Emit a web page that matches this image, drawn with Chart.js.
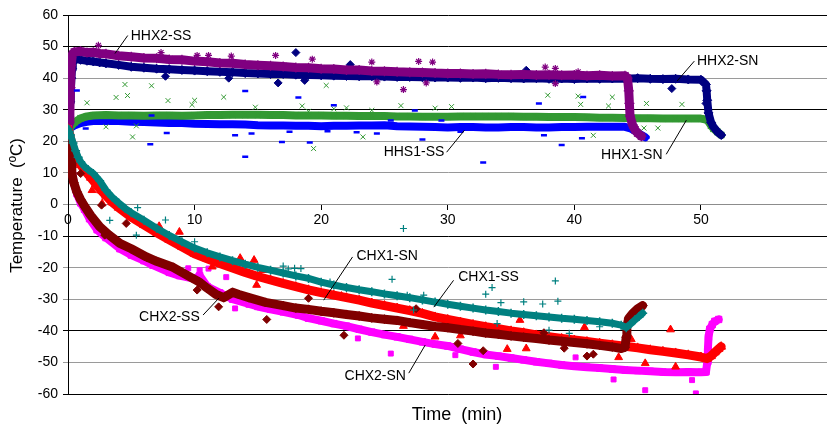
<!DOCTYPE html>
<html>
<head>
<meta charset="utf-8">
<script src="https://cdn.jsdelivr.net/npm/chart.js@4.4.1/dist/chart.umd.min.js"></script>
<style>
html, body { margin: 0; padding: 0; background: #fff; overflow: hidden; }
#wrap { width: 827px; height: 426px; overflow: hidden; }
</style>
</head>
<body>
<div id="wrap"><canvas id="tempChart" width="835" height="426"></canvas></div>
<script>
// ---- data (time in min, temperature in ºC) ----

// HHX2-SS (purple, asterisk)
const hhx2ssTime = [0, 0.1, 0.15, 0.2, 0.25, 0.35, 0.5, 1, 1.5, 2, 2.5, 3, 4, 5, 6, 7, 8, 9, 10, 11, 12, 13, 14, 15, 16, 17, 18, 19, 20, 21, 22, 23, 24, 25, 26, 27, 28, 29, 30, 31, 32, 33, 34, 35, 36, 37, 38, 39, 40, 41, 42, 43, 44, 44.2, 44.3, 44.35, 44.4, 44.6, 44.8, 45.0, 45.3];
const hhx2ssTemp = [24, 26, 30, 37, 44, 47.6, 48.3, 48.5, 48.1, 48.2, 47.8, 47.7, 47.1, 46.8, 46.4, 46.3, 45.9, 45.8, 45.4, 45.2, 44.8, 44.7, 44.3, 44.1, 43.9, 43.7, 43.4, 43.3, 43.0, 42.9, 42.6, 42.6, 42.3, 42.2, 42.0, 41.9, 41.8, 41.6, 41.5, 41.5, 41.3, 41.4, 41.2, 41.1, 41.2, 41.0, 41.1, 40.9, 41.0, 40.8, 40.9, 40.7, 40.8, 40.0, 36, 32, 28, 25.2, 23.6, 22.6, 21.6];
const hhx2ssOutTime = [2.4, 7.35, 10.2, 11.1, 12.9, 16.4, 19.3, 24.0, 24.4, 26.5, 27.7, 28.3, 28.8, 37.7, 38.5, 38.5, 40.3];
const hhx2ssOutTemp = [50.4, 48.1, 47.2, 47.2, 47.0, 47.2, 46.0, 45.1, 38.8, 36.4, 45.3, 38.5, 45.1, 43.5, 43.1, 38.3, 42.0];

// HHX2-SN (navy, diamond)
const hhx2snTime = [0, 0.12, 0.17, 0.22, 0.27, 0.32, 0.38, 0.45, 0.6, 1, 1.5, 2, 2.5, 3, 4, 5, 6, 7, 8, 9, 10, 11, 12, 13, 14, 15, 16, 17, 18, 19, 20, 21, 22, 23, 24, 25, 26, 27, 28, 29, 30, 31, 32, 33, 34, 35, 36, 37, 38, 39, 40, 41, 42, 43, 44, 45, 46, 47, 48, 49, 50, 50.4, 50.45, 50.5, 50.6, 50.8, 51, 51.3, 51.6];
const hhx2snTemp = [24, 28, 32.5, 36, 40, 43, 45, 45.8, 46, 45.8, 45.5, 45.3, 45, 44.7, 44.2, 43.6, 43.3, 43.0, 42.8, 42.6, 42.4, 42.2, 42.0, 41.9, 41.6, 41.5, 41.3, 41.3, 41.1, 41.0, 40.9, 40.8, 40.7, 40.6, 40.6, 40.5, 40.4, 40.4, 40.3, 40.2, 40.2, 40.1, 40.2, 40.0, 40.1, 40.0, 39.9, 40.0, 39.8, 39.9, 39.7, 39.9, 39.8, 39.9, 39.8, 40.0, 39.8, 39.7, 39.8, 39.6, 39.5, 38, 36, 33, 29, 26, 24.5, 23, 22];
const hhx2snOutTime = [7.7, 12.7, 16.6, 18.0, 18.7, 22.3, 36.2, 47.7, 50.4];
const hhx2snOutTemp = [40.6, 40.0, 38.5, 48.1, 39.3, 44.3, 42.5, 36.7, 32.0];

// HHS1-SS (blue, dash)
const hhs1ssTime = [0, 0.2, 0.5, 1, 1.5, 2, 3, 4, 5, 6, 7, 8, 9, 10, 11, 12, 13, 14, 15, 16, 17, 18, 19, 20, 21, 22, 23, 24, 25, 26, 27, 28, 29, 30, 31, 32, 33, 34, 35, 36, 37, 38, 39, 40, 41, 42, 43, 44, 44.5, 45, 45.3, 45.6];
const hhs1ssTemp = [24, 24.3, 25, 25.8, 26.2, 26.4, 26.5, 26.4, 26.2, 26.1, 26.0, 25.8, 25.8, 25.6, 25.5, 25.4, 25.4, 25.3, 25.1, 25.0, 25.0, 24.9, 24.9, 24.8, 24.9, 24.9, 25.0, 25.0, 25.1, 24.8, 24.7, 24.6, 24.5, 24.4, 24.5, 24.5, 24.4, 24.4, 24.5, 24.5, 24.4, 24.4, 24.5, 24.5, 24.6, 24.6, 24.6, 24.6, 24.0, 22.8, 22.0, 21.3];
const hhs1ssOutTime = [0.7, 1.4, 6.5, 6.6, 7.8, 13.2, 14.0, 14.0, 14.5, 16.9, 17.5, 18.2, 19.1, 20.5, 21.0, 22.8, 24.4, 25.5, 27.4, 28.0, 29.5, 31.0, 32.8, 37.2, 37.6, 39.0, 40.6, 40.7];
const hhs1ssOutTemp = [36.1, 24.1, 19.1, 28.2, 22.6, 21.9, 35.9, 15.1, 22.5, 19.8, 23.0, 33.9, 19.6, 23.2, 31.4, 22.9, 22.5, 26.6, 29.8, 20.6, 26.6, 23.0, 13.3, 32.0, 21.9, 18.8, 21.0, 34.0];

// HHX1-SN (green, x)
const hhx1snTime = [0, 0.2, 0.5, 1, 1.5, 2, 3, 4, 5, 6, 7, 8, 9, 10, 11, 12, 13, 14, 15, 16, 17, 18, 19, 20, 21, 22, 23, 24, 25, 26, 27, 28, 29, 30, 31, 32, 33, 34, 35, 36, 37, 38, 39, 40, 41, 42, 43, 44, 45, 46, 47, 48, 49, 50, 50.5, 50.8, 51, 51.3, 51.6];
const hhx1snTemp = [24, 24.5, 26, 27.3, 27.9, 28.2, 28.3, 28.2, 28.2, 28.1, 28.2, 28.2, 28.1, 28.2, 28.3, 28.3, 28.4, 28.4, 28.4, 28.3, 28.3, 28.2, 28.2, 28.2, 28.1, 28.1, 28.0, 28.0, 28.0, 27.9, 27.9, 27.8, 27.8, 27.8, 27.9, 27.9, 27.9, 27.9, 27.9, 27.8, 27.8, 27.7, 27.7, 27.7, 27.6, 27.5, 27.5, 27.4, 27.3, 27.3, 27.2, 27.2, 27.2, 27.2, 26.8, 25.0, 24.0, 23.0, 22.0];
const hhx1snOutTime = [1.5, 3.0, 3.8, 4.5, 4.7, 5.1, 5.4, 6.6, 7.9, 9.8, 10.0, 12.3, 14.8, 18.5, 19.0, 19.4, 20.4, 21.0, 22.0, 23.3, 24.0, 26.3, 29.0, 30.3, 37.9, 40.3, 40.5, 41.5, 42.7, 43.0, 44.3, 45.5, 45.7, 46.6, 48.5, 50.6];
const hhx1snOutTemp = [32.2, 24.6, 33.9, 38.0, 34.5, 21.4, 24.9, 37.6, 32.9, 31.6, 33.0, 34.0, 30.8, 31.2, 29.5, 17.7, 37.7, 30.3, 30.6, 21.4, 29.8, 31.3, 30.5, 31.0, 34.6, 34.3, 31.7, 21.9, 31.2, 34.0, 34.9, 24.2, 32.0, 24.2, 31.7, 29.0];

// CHX1-SS (teal, +)
const chx1ssTime = [0, 0.1, 0.2, 0.4, 0.6, 0.8, 1.0, 1.3, 1.6, 2.0, 2.5, 3.0, 3.5, 4.0, 4.5, 5, 6, 7, 8, 9, 10, 11, 12, 13, 14, 15, 16, 17, 18, 19, 20, 21, 22, 23, 24, 25, 26, 27, 28, 29, 30, 31, 32, 33, 34, 35, 36, 37, 38, 39, 40, 41, 42, 43, 43.7, 44.1, 44.4, 44.8, 45.1, 45.4];
const chx1ssTemp = [24, 23, 22, 19.5, 17, 15, 13.5, 12, 11, 9.8, 7.5, 4.5, 2.3, 0.5, -1.2, -2.6, -5, -7.5, -9.8, -11.8, -13.8, -15.3, -16.6, -17.8, -18.9, -19.9, -20.8, -21.7, -22.6, -23.4, -24.6, -25.5, -26.3, -27.0, -27.6, -28.3, -28.9, -29.5, -30.2, -30.9, -31.6, -32.2, -32.8, -33.4, -33.9, -34.4, -34.8, -35.2, -35.6, -36.0, -36.3, -36.7, -37.1, -37.6, -38.2, -39.0, -38.0, -36.5, -35.5, -34.4];
const chx1ssOutTime = [3.3, 5.4, 5.5, 7.7, 10.0, 17.0, 17.4, 17.9, 18.4, 20.7, 25.6, 26.5, 26.8, 27.3, 28.1, 33.0, 33.5, 33.9, 34.2, 36.0, 37.5, 38.0, 38.5, 38.7, 39.6, 42.0];
const chx1ssOutTemp = [-5.0, -9.7, -1.0, -4.9, -11.8, -19.5, -20.4, -20.2, -20.3, -24.5, -23.7, -7.6, -28.7, -33.4, -28.7, -28.4, -26.3, -37.7, -31.1, -30.8, -31.5, -39.8, -24.2, -30.6, -40.8, -38.7];

// CHX1-SN (red, triangle)
const chx1snTime = [0, 0.15, 0.3, 0.5, 0.7, 1.0, 1.4, 1.8, 2.2, 2.6, 3.0, 3.5, 4, 5, 6, 7, 8, 9, 10, 11, 12, 13, 14, 15, 16, 17, 18, 19, 20, 21, 22, 23, 24, 25, 26, 27, 28, 29, 30, 31, 32, 33, 34, 35, 36, 37, 38, 39, 40, 41, 42, 43, 44, 45, 46, 47, 48, 49, 50, 50.5, 50.8, 51.1, 51.4, 51.6];
const chx1snTemp = [24, 22, 19, 16.5, 14.5, 12.5, 10.5, 8.5, 6.5, 4.5, 2.8, 0.7, -1.0, -4.0, -6.5, -8.9, -11.2, -13.4, -15.6, -17.2, -18.7, -20.1, -21.5, -22.8, -23.9, -25.0, -26.0, -27.0, -27.9, -28.7, -29.5, -30.3, -31.2, -32.0, -32.8, -33.6, -34.5, -35.6, -36.4, -37.2, -38.0, -38.7, -39.3, -40.0, -40.6, -41.3, -41.9, -42.4, -42.9, -43.4, -43.9, -44.4, -44.9, -45.4, -46.0, -46.5, -47.0, -47.6, -48.3, -48.8, -48.0, -46.8, -45.7, -45.0];
const chx1snOutTime = [1.9, 2.7, 7.2, 8.8, 11.4, 13.6, 14.7, 14.9, 15.4, 21.6, 26.5, 29.0, 31.0, 34.7, 35.7, 36.2, 40.8, 43.5, 44.5, 45.6, 47.6, 48.0];
const chx1snOutTemp = [4.5, 0.3, -6.9, -8.7, -19.7, -17.0, -17.6, -25.5, -20.8, -29.0, -38.5, -41.9, -41.5, -45.8, -36.6, -45.6, -38.9, -48.4, -42.7, -50.3, -39.6, -51.4];

// CHX2-SS (maroon, diamond)
const chx2ssTime = [0, 0.1, 0.18, 0.25, 0.3, 0.45, 0.7, 1.0, 1.35, 1.8, 2.5, 3.2, 4.1, 5, 6.2, 7, 8.3, 9, 10.35, 11, 11.7, 12.3, 13, 13.5, 14.3, 15.6, 17, 18, 19, 20, 21, 22, 23, 24, 25, 26, 27, 28, 29, 30, 31, 32, 33, 34, 35, 36, 37, 38, 39, 40, 41, 42, 43, 43.7, 44.0, 44.1, 44.15, 44.3, 44.6, 45.0, 45.4];
const chx2ssTemp = [22, 20, 17, 13, 10, 7, 4, 1.5, -0.8, -3.5, -7, -9.5, -12.3, -14, -16.6, -18, -19.9, -21.5, -24.5, -26.5, -28.5, -29.5, -27.8, -28.5, -29.5, -31.0, -32.0, -32.8, -33.2, -33.8, -34.3, -34.8, -35.3, -35.9, -36.3, -36.7, -37.4, -38.0, -38.6, -39.0, -39.6, -40.1, -40.7, -41.1, -41.6, -42.0, -42.4, -42.9, -43.3, -43.7, -44.1, -44.6, -45.1, -45.6, -45.2, -42, -38.5, -36, -34.5, -33, -32];
const chx2ssOutTime = [1.0, 2.65, 2.9, 4.6, 10.2, 11.9, 15.7, 19.0, 21.8, 27.5, 30.8, 32.0, 32.8, 37.6, 39.2, 41.0, 41.5];
const chx2ssOutTemp = [9.8, -0.2, -9.7, -6.0, -27.1, -32.4, -36.4, -29.7, -41.4, -33.0, -44.0, -50.5, -46.3, -40.6, -45.5, -48.0, -47.4];

// CHX2-SN (magenta, square)
const chx2snTime = [0, 0.1, 0.2, 0.3, 0.45, 0.7, 1.0, 1.3, 1.7, 2.3, 3, 4.1, 5, 6, 6.7, 8, 8.8, 10, 10.4, 11, 12, 13, 14.3, 15, 16, 17, 18.2, 19, 20, 21, 22, 23, 24, 25, 26, 27, 28, 29, 30, 31, 32, 33, 34, 35, 36, 37, 38, 39, 40, 41, 42, 43, 44, 45, 46, 47, 48, 49, 50, 50.4, 50.5, 50.55, 50.6, 50.7, 50.9, 51.1, 51.4];
const chx2snTemp = [24, 20, 15, 11, 7, 3.5, 0.5, -1.5, -4.5, -8, -10.5, -14, -16, -17.8, -19.2, -21.5, -22.5, -23.5, -22.5, -26, -28.0, -30.0, -31.5, -32.3, -33.2, -34.0, -35.0, -36.0, -36.8, -37.7, -38.5, -39.5, -40.4, -41.2, -41.9, -42.7, -43.5, -44.2, -44.8, -45.8, -46.7, -47.5, -48.0, -48.6, -49.2, -49.8, -50.3, -50.8, -51.2, -51.5, -51.8, -52.1, -52.4, -52.6, -52.8, -53.0, -53.1, -53.0, -53.1, -53.0, -50, -46, -42, -39.5, -38, -37, -36.4];
const chx2snOutTime = [6.6, 9.5, 10.4, 11.1, 12.5, 13.2, 22.9, 25.5, 30.6, 33.8, 40.1, 43.1, 45.6, 49.3, 49.6];
const chx2snOutTemp = [-18.7, -20.2, -20.8, -20.3, -23.0, -32.9, -42.4, -47.2, -47.7, -51.4, -48.4, -55.4, -58.8, -55.6, -59.8];

// axes
const xTicks = [0, 10, 20, 30, 40, 50];
const yMin = -60;
const yMax = 60;
const yStep = 10;
const xMax = 60;

// gridlines that came out black in the picture (the rest look grey)
const darkGridValues = [60, 50, 30, -10, -40, -60];

// series labels with their leader lines: [time, temp] where the line starts, where it ends, text anchor
const seriesLabels = [
	{ text: 'HHX2-SS', from: [3.71, 47.8], to: [4.72, 53.5], at: [4.95, 53.3], align: 'left' },
	{ text: 'HHX2-SN', from: [48.12, 39.1], to: [49.48, 45.4], at: [49.69, 45.5], align: 'left' },
	{ text: 'HHX1-SN', from: [48.85, 26.7], to: [47.26, 15.9], at: [46.97, 15.6], align: 'right' },
	{ text: 'HHS1-SS', from: [31.32, 23.5], to: [29.91, 16.55], at: [29.73, 16.45], align: 'right' },
	{ text: 'CHX1-SN', from: [20.2, -30.3], to: [22.48, -16.6], at: [22.79, -16.3], align: 'left' },
	{ text: 'CHX1-SS', from: [28.9, -32.5], to: [30.46, -24.0], at: [30.83, -23.1], align: 'left' },
	{ text: 'CHX2-SS', from: [11.92, -29.65], to: [10.67, -35.0], at: [10.41, -35.6], align: 'right' },
	{ text: 'CHX2-SN', from: [28.22, -44.5], to: [26.92, -53.4], at: [26.7, -54.2], align: 'right' }
];

const FONT = "'Liberation Sans', Arial, sans-serif";

let toPoints = function(xs, ys) {
	return xs.map(function(x, i) { return { x: x, y: ys[i] }; });
};

// main band: points joined by a thick line so it looks like the dense cloud
let bandSet = function(xs, ys, color, style, radius, pointWidth, bandWidth, order) {
	return {
		data: toPoints(xs, ys),
		showLine: true,
		borderColor: color,
		borderWidth: bandWidth,
		borderJoinStyle: 'round',
		borderCapStyle: 'round',
		tension: 0,
		pointStyle: style,
		pointRadius: radius,
		pointBackgroundColor: color,
		pointBorderColor: color,
		pointBorderWidth: pointWidth,
		order: order
	};
};

// scattered single readings
let strayPoints = function(xs, ys, color, style, radius, pointWidth, order) {
	return {
		data: toPoints(xs, ys),
		showLine: false,
		pointStyle: style,
		pointRadius: radius,
		pointBackgroundColor: color,
		pointBorderColor: color,
		pointBorderWidth: pointWidth,
		order: order
	};
};

const PURPLE = '#800080';
const NAVY = '#000080';
const BLUE = '#0000ff';
const GREEN = '#339933';
const TEAL = '#008080';
const RED = '#ff0000';
const MAROON = '#800000';
const MAGENTA = '#ff00ff';

let datasets = [
	bandSet(chx1ssTime, chx1ssTemp, TEAL, 'cross', 4.5, 1.5, 7, 1),
	strayPoints(chx1ssOutTime, chx1ssOutTemp, TEAL, 'cross', 3.5, 1.2, 1),
	bandSet(chx2ssTime, chx2ssTemp, MAROON, 'rectRot', 4.5, 1, 9, 2),
	strayPoints(chx2ssOutTime, chx2ssOutTemp, MAROON, 'rectRot', 4, 1, 2),
	bandSet(chx1snTime, chx1snTemp, RED, 'triangle', 5, 1, 9, 3),
	strayPoints(chx1snOutTime, chx1snOutTemp, RED, 'triangle', 4.5, 1, 3),
	bandSet(chx2snTime, chx2snTemp, MAGENTA, 'rect', 4.5, 1, 8, 4),
	strayPoints(chx2snOutTime, chx2snOutTemp, MAGENTA, 'rect', 3.5, 1, 4),
	bandSet(hhx2ssTime, hhx2ssTemp, PURPLE, 'star', 5, 1.2, 9, 5),
	strayPoints(hhx2ssOutTime, hhx2ssOutTemp, PURPLE, 'star', 3.5, 1.2, 5),
	bandSet(hhx2snTime, hhx2snTemp, NAVY, 'rectRot', 4.5, 1, 8, 6),
	strayPoints(hhx2snOutTime, hhx2snOutTemp, NAVY, 'rectRot', 4, 1, 6),
	bandSet(hhx1snTime, hhx1snTemp, GREEN, 'crossRot', 4.5, 1.2, 8, 7),
	strayPoints(hhx1snOutTime, hhx1snOutTemp, GREEN, 'crossRot', 3.5, 1, 7),
	bandSet(hhs1ssTime, hhs1ssTemp, BLUE, 'line', 4.5, 3, 8, 8),
	strayPoints(hhs1ssOutTime, hhs1ssOutTemp, BLUE, 'line', 3, 2.5, 0)
];

// axis titles and the series labels drawn on top
let labelPlugin = {
	id: 'seriesLabels',
	afterDatasetsDraw: function(chart) {
		let ctx = chart.ctx;
		let xs = chart.scales.x;
		let ys = chart.scales.y;
		ctx.save();
		ctx.strokeStyle = '#000';
		ctx.lineWidth = 1;
		ctx.fillStyle = '#000';
		ctx.font = '14px ' + FONT;
		ctx.textBaseline = 'middle';
		seriesLabels.forEach(function(l) {
			ctx.beginPath();
			ctx.moveTo(xs.getPixelForValue(l.from[0]), ys.getPixelForValue(l.from[1]));
			ctx.lineTo(xs.getPixelForValue(l.to[0]), ys.getPixelForValue(l.to[1]));
			ctx.stroke();
			ctx.textAlign = l.align;
			ctx.fillText(l.text, xs.getPixelForValue(l.at[0]), ys.getPixelForValue(l.at[1]));
		});
		ctx.restore();
	},
	afterDraw: function(chart) {
		let ctx = chart.ctx;
		let area = chart.chartArea;
		ctx.save();
		ctx.fillStyle = '#000';
		ctx.textAlign = 'center';
		ctx.textBaseline = 'middle';
		ctx.font = '18px ' + FONT;
		ctx.fillText('Time  (min)', 457, 415);
		ctx.translate(17, (area.top + area.bottom) / 2 + 1);
		ctx.rotate(-Math.PI / 2);
		ctx.font = '17px ' + FONT;
		ctx.fillText('Temperature  (ºC)', 0, 0);
		ctx.restore();
	}
};

let ctx = document.getElementById('tempChart');

let tempChart = new Chart(ctx, {
	type: 'scatter',
	data: { datasets: datasets },
	options: {
		responsive: false,
		animation: false,
		events: [],
		layout: {
			padding: { top: 15, bottom: 32, left: 0, right: 0 }
		},
		plugins: {
			legend: { display: false },
			tooltip: { enabled: false },
			title: { display: false }
		},
		scales: {
			x: {
				type: 'linear',
				position: { y: 0 },
				min: 0,
				max: xMax,
				afterBuildTicks: function(scale) {
					scale.ticks = xTicks.map(function(v) { return { value: v }; });
				},
				ticks: {
					color: '#000',
					font: { family: FONT, size: 14 },
					padding: 2,
					maxRotation: 0
				},
				grid: {
					drawOnChartArea: false,
					drawTicks: true,
					tickLength: 5,
					color: '#000'
				},
				border: { color: '#8c8c8c', width: 1 }
			},
			y: {
				min: yMin,
				max: yMax,
				afterFit: function(scale) {
					scale.width = 68;
				},
				ticks: {
					stepSize: yStep,
					color: '#000',
					font: { family: FONT, size: 14 },
					padding: 5
				},
				grid: {
					drawTicks: true,
					tickLength: 5,
					lineWidth: 1,
					color: function(c) {
						return darkGridValues.indexOf(c.tick.value) >= 0 ? '#000' : '#9a9a9a';
					}
				},
				border: { color: '#000', width: 1 }
			}
		}
	},
	plugins: [labelPlugin]
});
</script>
</body>
</html>
